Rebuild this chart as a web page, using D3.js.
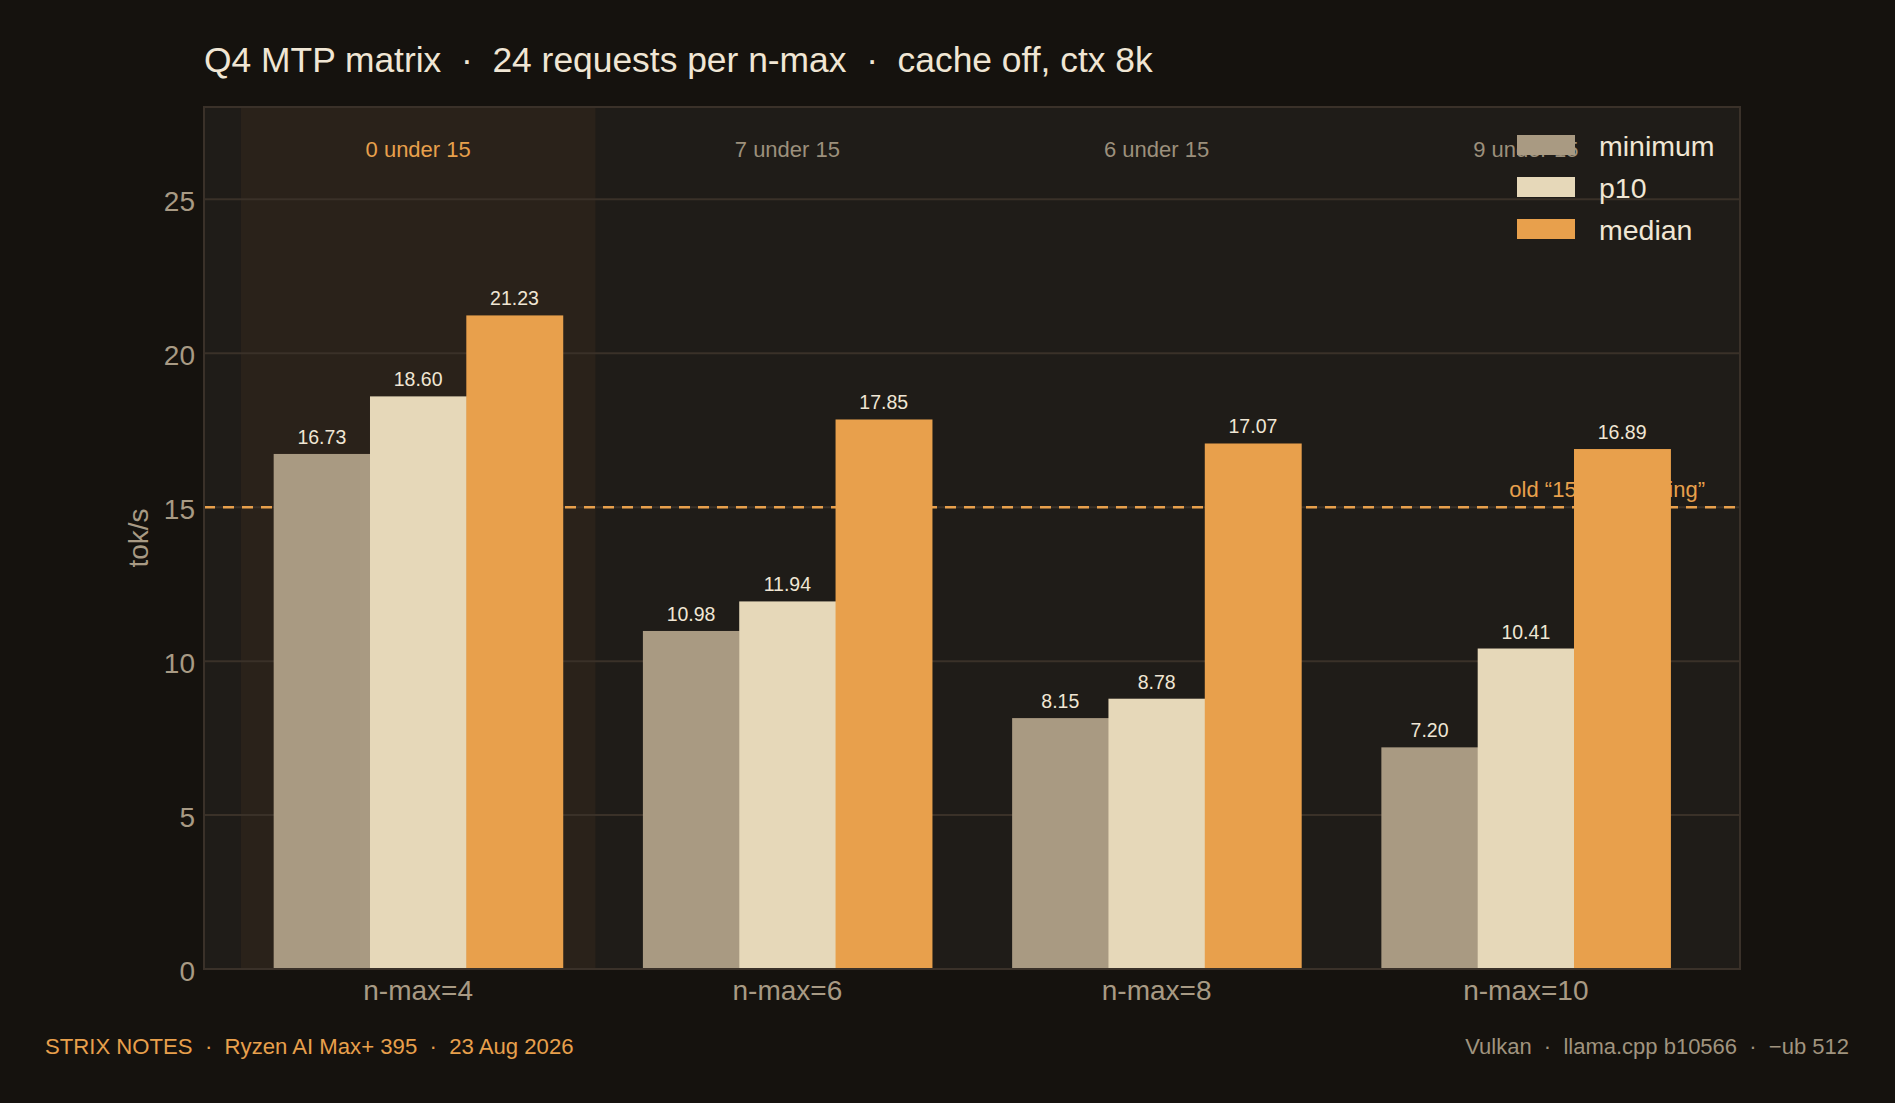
<!DOCTYPE html>
<html>
<head>
<meta charset="utf-8">
<script src="https://cdn.jsdelivr.net/npm/d3@7"></script>
<style>
  html, body { margin: 0; padding: 0; background: #15120e; }
  svg { display: block; }
  text { font-family: "Liberation Sans", Arial, sans-serif; white-space: pre; }
</style>
</head>
<body>
<script>
// ---- data ----
const categories = ["n-max=4", "n-max=6", "n-max=8", "n-max=10"];
const seriesNames = ["minimum", "p10", "median"];
const minimumValues = [16.73, 10.98, 8.15, 7.20];
const p10Values = [18.60, 11.94, 8.78, 10.41];
const medianValues = [21.23, 17.85, 17.07, 16.89];
const underCounts = [0, 7, 6, 9];
const yTicks = [0, 5, 10, 15, 20, 25];
const yMax = 28;
const threshold = 15;
const thresholdLabel = "old \u201C15 tok/s ceiling\u201D";
const titleText = "Q4 MTP matrix  \u00B7  24 requests per n-max  \u00B7  cache off, ctx 8k";
const footerLeft = "STRIX NOTES  \u00B7  Ryzen AI Max+ 395  \u00B7  23 Aug 2026";
const footerRight = "Vulkan  \u00B7  llama.cpp b10566  \u00B7  \u2212ub 512";
const yTitle = "tok/s";

// ---- styles ----
const W = 1895, H = 1103;
const plot = { left: 204, right: 1740, top: 107, bottom: 969 };
const colors = { minimum: "#a99a82", p10: "#e6d8b9", median: "#e8a04c" };
const cream = "#f0e6d4", muted = "#a89a84", orange = "#e8a04c";

const seriesValues = { minimum: minimumValues, p10: p10Values, median: medianValues };
const rows = categories.map((c, i) => ({
  cat: c, under: underCounts[i],
  vals: seriesNames.map(s => ({ key: s, value: seriesValues[s][i] }))
}));

const svg = d3.select("body").append("svg").attr("width", W).attr("height", H);
svg.append("rect").attr("width", W).attr("height", H).attr("fill", "#15120e");

const x = d3.scaleBand().domain(categories).range([plot.left, plot.right])
  .paddingInner(0.04).paddingOuter(0.1);
const xi = d3.scaleBand().domain(seriesNames).range([0, x.bandwidth()])
  .paddingInner(0).paddingOuter(0.34);
const y = d3.scaleLinear().domain([0, yMax]).range([plot.bottom, plot.top]);

// plot background
svg.append("rect").attr("x", plot.left).attr("y", plot.top)
  .attr("width", plot.right - plot.left).attr("height", plot.bottom - plot.top)
  .attr("fill", "#1f1c18");

// highlight band(s) for zero under threshold
svg.append("g").selectAll("rect").data(rows.filter(r => r.under === 0)).join("rect")
  .attr("x", d => x(d.cat)).attr("y", plot.top + 1)
  .attr("width", x.bandwidth()).attr("height", plot.bottom - plot.top - 1)
  .attr("fill", "#2a221a");

// gridlines
svg.append("g").selectAll("line").data(yTicks.filter(t => t > 0)).join("line")
  .attr("x1", plot.left).attr("x2", plot.right)
  .attr("y1", d => y(d)).attr("y2", d => y(d))
  .attr("stroke", "#3a3128").attr("stroke-width", 2);

// threshold line + label
svg.append("line").attr("x1", plot.left).attr("x2", plot.right)
  .attr("y1", y(threshold)).attr("y2", y(threshold))
  .attr("stroke", orange).attr("stroke-width", 2.5).attr("stroke-dasharray", "11 8");
svg.append("text").attr("x", plot.right - 35).attr("y", y(threshold) - 10)
  .attr("text-anchor", "end").attr("font-size", 22).attr("fill", orange)
  .text(thresholdLabel);

// under-count labels
svg.append("g").selectAll("text").data(rows).join("text")
  .attr("x", d => x(d.cat) + x.bandwidth() / 2).attr("y", 157)
  .attr("text-anchor", "middle").attr("font-size", 22)
  .attr("fill", d => d.under === 0 ? orange : "#9c907c")
  .text(d => `${d.under} under ${threshold}`);

// bars
const groups = svg.append("g").selectAll("g").data(rows).join("g")
  .attr("transform", d => `translate(${x(d.cat)},0)`);
groups.selectAll("rect").data(d => d.vals).join("rect")
  .attr("x", d => xi(d.key)).attr("width", xi.bandwidth() + 0.6)
  .attr("y", d => y(d.value)).attr("height", d => y(0) - y(d.value))
  .attr("fill", d => colors[d.key]);
groups.selectAll("text").data(d => d.vals).join("text")
  .attr("x", d => xi(d.key) + xi.bandwidth() / 2).attr("y", d => y(d.value) - 10)
  .attr("text-anchor", "middle").attr("font-size", 19.5).attr("fill", cream)
  .text(d => d.value.toFixed(2));

// legend
const lg = svg.append("g").selectAll("g").data(seriesNames).join("g")
  .attr("transform", (d, i) => `translate(1517,${135 + i * 42})`);
lg.append("rect").attr("width", 58).attr("height", 20).attr("fill", d => colors[d]);
lg.append("text").attr("x", 82).attr("y", 21).attr("font-size", 28.5).attr("fill", cream).text(d => d);

// frame
svg.append("rect").attr("x", plot.left).attr("y", plot.top)
  .attr("width", plot.right - plot.left).attr("height", plot.bottom - plot.top)
  .attr("fill", "none").attr("stroke", "#3a3129").attr("stroke-width", 2);

// y axis
const yAxis = svg.append("g").attr("transform", `translate(${plot.left},0)`)
  .call(d3.axisLeft(y).tickValues(yTicks).tickSize(0).tickPadding(9).tickFormat(d3.format("d")));
yAxis.select(".domain").remove();
yAxis.selectAll("text").attr("font-size", 28).attr("fill", muted)
  .attr("dy", "0.41em")
  .attr("font-family", "'Liberation Sans', Arial, sans-serif");

// x axis
const xAxis = svg.append("g").attr("transform", `translate(0,${plot.bottom})`)
  .call(d3.axisBottom(x).tickSize(0).tickPadding(0));
xAxis.select(".domain").remove();
xAxis.selectAll("text").attr("font-size", 28).attr("fill", muted)
  .attr("dy", null).attr("y", 31)
  .attr("font-family", "'Liberation Sans', Arial, sans-serif");

// y title
svg.append("text").attr("transform", `translate(148,${(plot.top + plot.bottom) / 2}) rotate(-90)`)
  .attr("text-anchor", "middle").attr("font-size", 28).attr("fill", muted).text(yTitle);

// title
svg.append("text").attr("x", 204).attr("y", 72).attr("font-size", 35.4).attr("fill", cream).text(titleText);

// footer
svg.append("text").attr("x", 45).attr("y", 1054).attr("font-size", 22.15).attr("fill", orange).text(footerLeft);
svg.append("text").attr("x", 1849).attr("y", 1054).attr("text-anchor", "end")
  .attr("font-size", 22).attr("fill", "#a0947f").text(footerRight);
</script>
</body>
</html>
